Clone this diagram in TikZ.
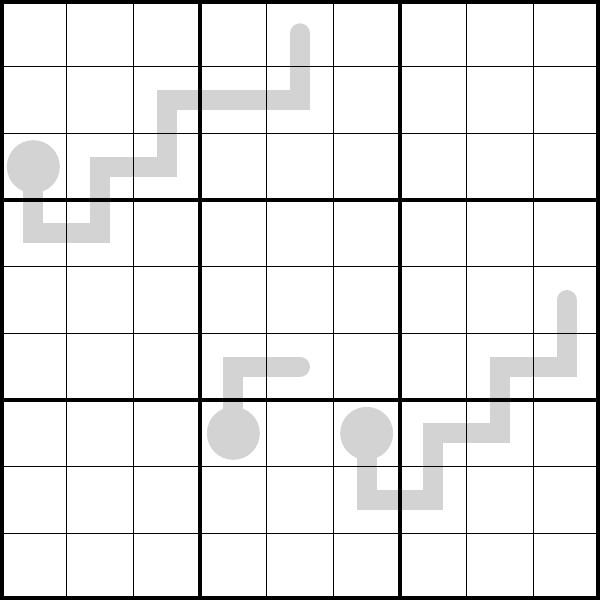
\documentclass[tikz,border=0pt]{standalone}
\usepackage{tikz}
\definecolor{thermogray}{HTML}{D3D3D3}
\tikzset{thermo/.style={color=thermogray,line width=0.3cm,line cap=round,line join=miter},
  bulb/.style={color=thermogray,fill=thermogray}}
\begin{document}
\begin{tikzpicture}
  \useasboundingbox (0,0) rectangle (9,9) ;
  % thermometers
  \draw[bulb] (0.5,6.5) circle (0.39) ;
  \draw[thermo] (0.5,6.5) -- (0.5,5.5) -- (1.5,5.5) -- (1.5,6.5) -- (2.5,6.5) -- (2.5,7.5) -- (4.5,7.5) -- (4.5,8.5) ;
  \draw[bulb] (3.5,2.5) circle (0.39) ;
  \draw[thermo] (3.5,2.5) -- (3.5,3.5) -- (4.5,3.5) ;
  \draw[bulb] (5.5,2.5) circle (0.39) ;
  \draw[thermo] (5.5,2.5) -- (5.5,1.5) -- (6.5,1.5) -- (6.5,2.5) -- (7.5,2.5) -- (7.5,3.5) -- (8.5,3.5) -- (8.5,4.5) ;
  % grid
  \draw[line width=0.6pt,step=1] (0,0) grid (9,9) ;
  \draw[line width=1.5pt,step=3] (0,0) grid (9,9) ;
  \draw[line width=3pt] (0,0) rectangle (9,9) ;
\end{tikzpicture}
\end{document}
